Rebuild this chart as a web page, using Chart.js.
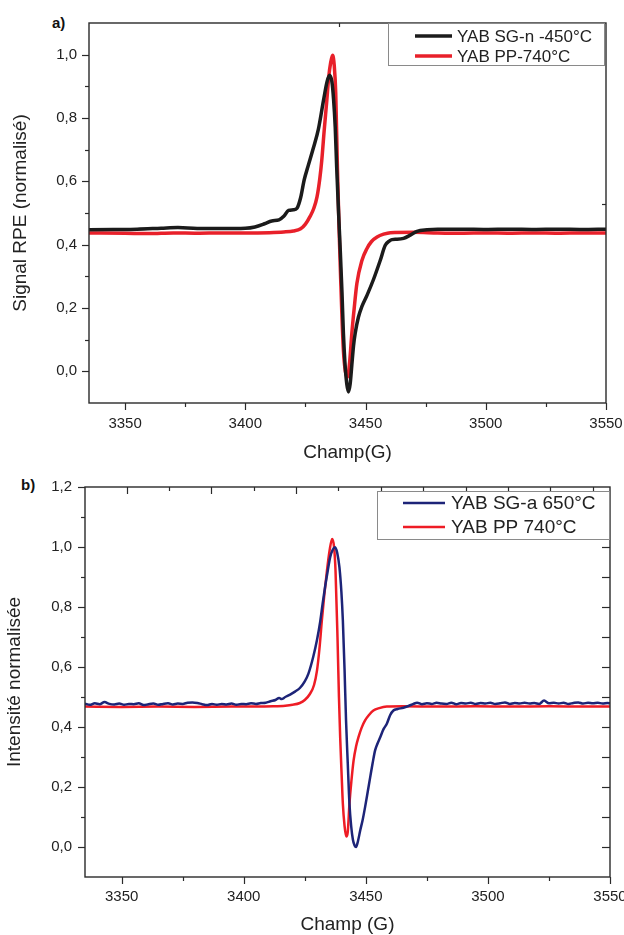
<!DOCTYPE html>
<html>
<head>
<meta charset="utf-8">
<script src="https://cdn.jsdelivr.net/npm/chart.js@4"></script>
<style>
  html, body { margin: 0; padding: 0; background: #fff; overflow: hidden; }
  body { width: 624px; height: 935px; position: relative; font-family: "Liberation Sans", Arial, sans-serif; }
  canvas { position: absolute; left: 0; }
  #c1 { top: 0; }
  #c2 { top: 467px; }
  .tag { position: absolute; font-weight: bold; font-size: 15px; color: #111; }
</style>
</head>
<body>
<div class="tag" style="left:52px; top:14px;">a)</div>
<div class="tag" style="left:21px; top:476px;">b)</div>
<canvas id="c1" width="624" height="467"></canvas>
<canvas id="c2" width="624" height="470"></canvas>
<script>
// axes
const xMajor = [3350, 3400, 3450, 3500, 3550];
const xMinor = [3375, 3425, 3475, 3525];
const yMajorA = [0, 0.2, 0.4, 0.6, 0.8, 1.0];
const yMinorA = [0.1, 0.3, 0.5, 0.7, 0.9];
const yMajorB = [0, 0.2, 0.4, 0.6, 0.8, 1.0, 1.2];
const yMinorB = [0.1, 0.3, 0.5, 0.7, 0.9, 1.1];
const topTicksA = [3439];
const rightTicksA = [0.53];
const topMajorB = [3352, 3386.7, 3421.4, 3456.2, 3490.9, 3525.6];
const topMinorB = [3369.4, 3404.1, 3438.8, 3473.5, 3508.3, 3543];
const rightTicksB = [0, 0.1, 0.2, 0.3, 0.4, 0.5, 0.6, 0.7, 0.8, 0.9, 1.0, 1.1];

// a) YAB SG-n -450°C
const sgnField = [3335, 3345, 3355, 3365, 3372, 3380, 3390, 3400, 3404, 3408, 3411, 3414, 3416, 3418, 3420, 3421.5,
  3423, 3424.5, 3426, 3428.3, 3430.4, 3432.5, 3434, 3435, 3436, 3436.7, 3437.4, 3438, 3438.8, 3439.5, 3440.2,
  3440.8, 3441.5, 3442.2, 3442.9, 3443.6, 3444.3, 3445, 3445.7, 3447, 3448.5, 3450.6, 3453.3, 3456.1, 3458.2,
  3460, 3461, 3463, 3465.8, 3468.6, 3471.4, 3475.6, 3480, 3490, 3500, 3510, 3520, 3530, 3540, 3550];
const sgnSignal = [0.447, 0.448, 0.449, 0.452, 0.454, 0.451, 0.451, 0.452, 0.456, 0.466, 0.475, 0.478, 0.49, 0.508, 0.51, 0.515,
  0.548, 0.605, 0.645, 0.705, 0.765, 0.855, 0.915, 0.935, 0.915, 0.86, 0.77, 0.645, 0.5, 0.38, 0.25,
  0.12, 0.02, -0.04, -0.065, -0.04, 0.02, 0.08, 0.12, 0.17, 0.205, 0.24, 0.29, 0.35, 0.398,
  0.412, 0.416, 0.417, 0.42, 0.43, 0.442, 0.447, 0.449, 0.449, 0.448, 0.449, 0.448, 0.449, 0.448, 0.449];

// a) YAB PP-740°C
const ppAField = [3335, 3350, 3360, 3370, 3380, 3390, 3400, 3410, 3416, 3420, 3423, 3425, 3427, 3428.5, 3429.8, 3431,
  3431.8, 3432.8, 3433.9, 3434.7, 3435.5, 3436.3, 3437, 3437.6, 3438.3, 3439, 3439.5, 3440.2, 3440.8, 3441.6,
  3442.5, 3443.4, 3444.3, 3445.3, 3446.4, 3448.5, 3450.6, 3452.5, 3454.8, 3457.5, 3460.3, 3470, 3480, 3490,
  3500, 3510, 3520, 3530, 3540, 3550];
const ppASignal = [0.437, 0.436, 0.435, 0.437, 0.436, 0.437, 0.437, 0.438, 0.44, 0.443, 0.45, 0.465, 0.49, 0.515, 0.55, 0.61,
  0.666, 0.76, 0.856, 0.93, 0.975, 0.998, 0.965, 0.88, 0.645, 0.45, 0.33, 0.17, 0.066, 0.0,
  -0.018, 0.03, 0.12, 0.2, 0.277, 0.35, 0.388, 0.41, 0.424, 0.433, 0.438, 0.439, 0.437, 0.436,
  0.437, 0.436, 0.437, 0.436, 0.437, 0.437];

// b) YAB SG-a 650°C
const sgaField = [3335, 3337, 3339, 3341, 3343, 3345, 3347, 3349, 3351, 3353, 3355, 3357, 3359, 3361, 3363, 3365, 3367,
  3369, 3371, 3373, 3375, 3377, 3379, 3381, 3383, 3385, 3387, 3389, 3391, 3393, 3395, 3397, 3399, 3401, 3403,
  3405, 3407, 3409, 3411, 3413, 3414.5, 3415.5, 3417, 3419, 3421, 3423, 3425, 3426.5, 3428.5, 3430, 3431.3,
  3432.3, 3433.3, 3434.4, 3435.4, 3436.4, 3437.4, 3438.3, 3439.2, 3440, 3440.6, 3441.3, 3441.9, 3442.6, 3443.3,
  3444, 3444.7, 3445.4, 3446, 3446.8, 3447.7, 3448.7, 3449.7, 3450.8, 3451.8, 3452.8, 3453.8, 3454.8, 3455.9,
  3457.2, 3458.6, 3460, 3461.3, 3463, 3465.4, 3467.5, 3469.5, 3471, 3473, 3475, 3477, 3479, 3481, 3483, 3485,
  3487, 3489, 3491, 3493, 3495, 3497, 3499, 3501, 3503, 3505, 3507, 3509, 3511, 3513, 3515, 3517, 3519, 3521,
  3523, 3525, 3527, 3529, 3531, 3533, 3535, 3537, 3539, 3541, 3543, 3545, 3547, 3549, 3550];
const sgaSignal = [0.478, 0.474, 0.479, 0.476, 0.483, 0.477, 0.475, 0.478, 0.474, 0.477, 0.476, 0.479, 0.473, 0.476, 0.478, 0.474, 0.477,
  0.479, 0.475, 0.478, 0.477, 0.481, 0.482, 0.48, 0.476, 0.473, 0.477, 0.474, 0.477, 0.475, 0.478, 0.474, 0.477, 0.476, 0.479,
  0.477, 0.48, 0.481, 0.486, 0.49, 0.497, 0.493, 0.5, 0.508, 0.518, 0.53, 0.552, 0.578, 0.635, 0.69, 0.75,
  0.81, 0.866, 0.92, 0.966, 0.99, 0.999, 0.98, 0.932, 0.85, 0.755, 0.59, 0.422, 0.28, 0.144,
  0.07, 0.025, 0.005, 0.0, 0.02, 0.055, 0.09, 0.133, 0.185, 0.233, 0.28, 0.322, 0.345, 0.366,
  0.392, 0.411, 0.44, 0.455, 0.46, 0.464, 0.47, 0.477, 0.481, 0.476, 0.479, 0.477, 0.481, 0.478, 0.477, 0.481,
  0.476, 0.48, 0.478, 0.481, 0.477, 0.48, 0.478, 0.481, 0.477, 0.479, 0.482, 0.477, 0.48, 0.478, 0.481, 0.478, 0.48, 0.477,
  0.488, 0.479, 0.481, 0.478, 0.481, 0.477, 0.48, 0.482, 0.478, 0.481, 0.479, 0.481, 0.478, 0.48, 0.479];

// b) YAB PP 740°C
const ppBField = [3335, 3350, 3365, 3380, 3395, 3405, 3412, 3417, 3420, 3423, 3425, 3427.1, 3428.8, 3430, 3431, 3432,
  3433, 3434.1, 3435.2, 3436.2, 3437, 3437.6, 3438.4, 3439, 3439.5, 3440.1, 3440.6, 3441.3, 3442, 3442.6,
  3443.3, 3444.1, 3445, 3446, 3447, 3448.3, 3449.7, 3451.3, 3453.1, 3455.5, 3458.6, 3465, 3480, 3495, 3510,
  3525, 3540, 3550];
const ppBSignal = [0.468, 0.467, 0.468, 0.467, 0.468, 0.468, 0.469, 0.471, 0.474, 0.48, 0.49, 0.51, 0.54, 0.588, 0.66, 0.755,
  0.84, 0.922, 0.99, 1.027, 1.0, 0.92, 0.7, 0.5, 0.366, 0.24, 0.144, 0.07, 0.035, 0.05,
  0.144, 0.22, 0.289, 0.335, 0.366, 0.398, 0.422, 0.44, 0.455, 0.463, 0.468, 0.469, 0.468, 0.469, 0.468,
  0.469, 0.468, 0.468];

Chart.defaults.font.family = '"Liberation Sans", Arial, sans-serif';
Chart.defaults.color = '#222';

const toPoints = (xs, ys) => xs.map((x, i) => ({ x: x, y: ys[i] }));
const comma = v => v.toFixed(1).replace('.', ',');

// frame, tick marks and legend box
const axisDeco = {
  id: 'axisDeco',
  afterDraw(chart, args, opts) {
    const { ctx, chartArea: a, scales: { x, y } } = chart;
    ctx.save();
    ctx.strokeStyle = '#2a2a2a';
    ctx.lineWidth = 1.4;
    ctx.strokeRect(a.left, a.top, a.right - a.left, a.bottom - a.top);
    ctx.lineWidth = 1.2;
    opts.marks.forEach(m => {
      m.values.forEach(v => {
        ctx.beginPath();
        if (m.side === 'bottom' || m.side === 'top') {
          const px = Math.round(x.getPixelForValue(v)) + 0.5;
          const y0 = m.side === 'bottom' ? a.bottom : a.top;
          const dir = m.side === 'bottom' ? 1 : -1;
          ctx.moveTo(px, y0);
          ctx.lineTo(px, y0 + dir * m.len);
        } else {
          const py = Math.round(y.getPixelForValue(v)) + 0.5;
          const x0 = m.side === 'left' ? a.left : a.right;
          const dir = m.side === 'left' ? -1 : 1;
          ctx.moveTo(x0, py);
          ctx.lineTo(x0 + dir * m.len, py);
        }
        ctx.stroke();
      });
    });
    const L = opts.legend;
    ctx.fillStyle = '#fff';
    ctx.fillRect(L.x, L.y, L.w, L.h);
    ctx.strokeStyle = '#8a8a8a';
    ctx.lineWidth = 1;
    ctx.strokeRect(L.x + 0.5, L.y + 0.5, L.w, L.h);
    ctx.font = L.size + 'px "Liberation Sans", Arial, sans-serif';
    ctx.textBaseline = 'middle';
    chart.data.datasets.forEach((ds, i) => {
      ctx.strokeStyle = ds.borderColor;
      ctx.lineWidth = ds.borderWidth;
      ctx.beginPath();
      ctx.moveTo(L.s0, L.rows[i]);
      ctx.lineTo(L.s1, L.rows[i]);
      ctx.stroke();
      ctx.fillStyle = '#222';
      ctx.fillText(ds.label, L.tx, L.rows[i] + 1);
    });
    ctx.restore();
  }
};

function makeChart(id, cfg) {
  return new Chart(document.getElementById(id), {
    type: 'line',
    data: { datasets: cfg.datasets },
    options: {
      responsive: false,
      animation: false,
      events: [],
      layout: { padding: cfg.padding },
      elements: { point: { radius: 0 }, line: { tension: 0.4, cubicInterpolationMode: 'monotone' } },
      plugins: { legend: { display: false }, tooltip: { enabled: false }, axisDeco: cfg.deco },
      scales: {
        x: {
          type: 'linear', min: 3335, max: 3550,
          afterBuildTicks: s => { s.ticks = xMajor.map(v => ({ value: v })); },
          afterFit: s => { s.height = cfg.xHeight; s.paddingLeft = 0; s.paddingRight = 0; },
          grid: { display: false, drawTicks: false },
          border: { display: false },
          ticks: { padding: cfg.xPad, font: { size: 15 }, color: '#222', maxRotation: 0, autoSkip: false, callback: v => String(v) },
          title: { display: true, text: cfg.xTitle, font: { size: 19 }, color: '#222', padding: { top: 0, bottom: cfg.xTitlePad } }
        },
        y: {
          type: 'linear', min: -0.1, max: cfg.yMax,
          afterBuildTicks: s => { s.ticks = cfg.yMajor.map(v => ({ value: v })); },
          afterFit: s => { s.width = cfg.yWidth; s.paddingTop = 0; s.paddingBottom = 0; },
          grid: { display: false, drawTicks: false },
          border: { display: false },
          ticks: { padding: cfg.yPad, font: { size: 15 }, color: '#222', autoSkip: false, callback: v => comma(v) },
          title: { display: true, text: cfg.yTitle, font: { size: 19 }, color: '#222', padding: { top: cfg.yTitlePad, bottom: 0 } }
        }
      }
    },
    plugins: [axisDeco]
  });
}

makeChart('c1', {
  datasets: [
    { label: 'YAB SG-n -450°C', data: toPoints(sgnField, sgnSignal), borderColor: '#1b1b1b', borderWidth: 3.5 },
    { label: 'YAB PP-740°C', data: toPoints(ppAField, ppASignal), borderColor: '#e8202a', borderWidth: 3.5 }
  ],
  padding: { top: 23, right: 18, left: 0, bottom: 0 },
  xHeight: 64, xPad: 12, xTitle: 'Champ(G)', xTitlePad: 3,
  yMax: 1.1, yMajor: yMajorA, yWidth: 89, yPad: 12, yTitle: 'Signal RPE (normalisé)', yTitlePad: 9,
  deco: {
    marks: [
      { side: 'bottom', values: xMajor, len: 7 },
      { side: 'bottom', values: xMinor, len: 4 },
      { side: 'left', values: yMajorA, len: 7 },
      { side: 'left', values: yMinorA, len: 4 },
      { side: 'top', values: topTicksA, len: -4 },
      { side: 'right', values: rightTicksA, len: -4 }
    ],
    legend: { x: 388, y: 23, w: 216, h: 42, s0: 415, s1: 452, tx: 457, rows: [36, 56], size: 17 }
  }
});

makeChart('c2', {
  datasets: [
    { label: 'YAB SG-a 650°C', data: toPoints(sgaField, sgaSignal), borderColor: '#1d2478', borderWidth: 2.5 },
    { label: 'YAB PP 740°C', data: toPoints(ppBField, ppBSignal), borderColor: '#ee1c25', borderWidth: 2.5 }
  ],
  padding: { top: 20, right: 14, left: 0, bottom: 0 },
  xHeight: 60, xPad: 11, xTitle: 'Champ (G)', xTitlePad: 1,
  yMax: 1.2, yMajor: yMajorB, yWidth: 85, yPad: 13, yTitle: 'Intensité normalisée', yTitlePad: 3,
  deco: {
    marks: [
      { side: 'bottom', values: xMajor, len: 7 },
      { side: 'bottom', values: xMinor, len: 4 },
      { side: 'left', values: yMajorB, len: 7 },
      { side: 'left', values: yMinorB, len: 4 },
      { side: 'top', values: topMajorB, len: -7 },
      { side: 'top', values: topMinorB, len: -4 },
      { side: 'right', values: rightTicksB, len: -8 }
    ],
    legend: { x: 377, y: 24, w: 232, h: 48, s0: 403, s1: 445, tx: 451, rows: [36, 60], size: 19 }
  }
});
</script>
</body>
</html>
